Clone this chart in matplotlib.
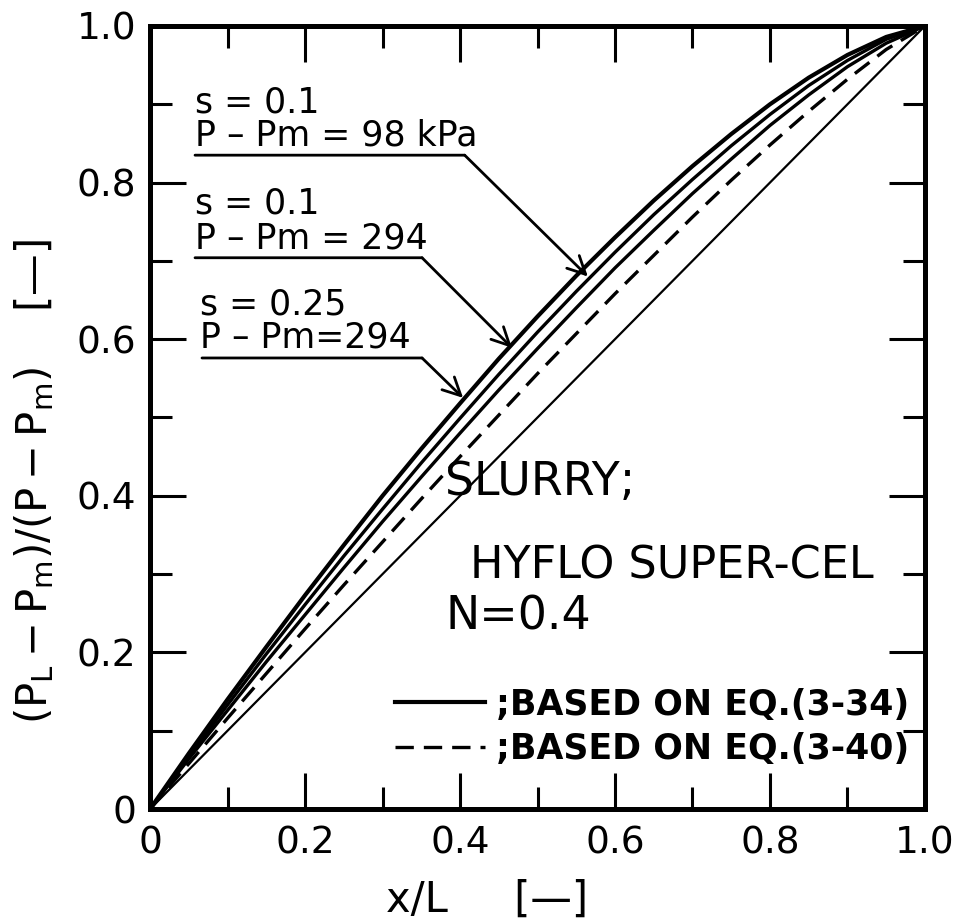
import matplotlib
matplotlib.use("Agg")
import matplotlib.pyplot as plt
from matplotlib.ticker import MultipleLocator

plt.rcParams['font.family'] = ['DejaVu Sans']
plt.rcParams['mathtext.default'] = 'regular'

# x/L positions
x_pos = [0.0, 0.05, 0.10, 0.15, 0.20, 0.25, 0.30, 0.35, 0.40, 0.45, 0.50,
         0.55, 0.60, 0.65, 0.70, 0.75, 0.80, 0.85, 0.90, 0.95, 1.0]

# (PL-Pm)/(P-Pm) for the solid curves, eq.(3-34)
solid_1 = [0.0, 0.071, 0.140, 0.207, 0.273, 0.337, 0.400, 0.460, 0.518, 0.575, 0.629,
           0.681, 0.730, 0.777, 0.821, 0.862, 0.900, 0.934, 0.963, 0.986, 1.0]
solid_2 = [0.0, 0.067, 0.133, 0.198, 0.261, 0.323, 0.383, 0.442, 0.499, 0.555, 0.609,
           0.661, 0.711, 0.759, 0.804, 0.847, 0.887, 0.924, 0.956, 0.983, 1.0]
solid_3 = [0.0, 0.064, 0.126, 0.188, 0.248, 0.308, 0.367, 0.424, 0.480, 0.535, 0.588,
           0.640, 0.691, 0.739, 0.786, 0.830, 0.873, 0.912, 0.948, 0.978, 1.0]
# dashed curve, eq.(3-40)
dashed = [0.0, 0.058, 0.116, 0.173, 0.230, 0.286, 0.341, 0.396, 0.450, 0.503, 0.556,
          0.607, 0.658, 0.707, 0.756, 0.803, 0.848, 0.891, 0.932, 0.970, 1.0]
# straight reference line
diag_x = [0.0, 1.0]
diag_y = [0.0, 1.0]

ticks = [0, 0.2, 0.4, 0.6, 0.8, 1.0]
tick_labels = ['0', '0.2', '0.4', '0.6', '0.8', '1.0']

# case labels: (line 1, line 2, text x, baseline y1, baseline y2)
cases = [("s = 0.1", "P – Pm = 98 kPa", 0.058, 0.890, 0.847),
         ("s = 0.1", "P – Pm = 294", 0.058, 0.760, 0.716),
         ("s = 0.25", "P – Pm=294", 0.065, 0.631, 0.589)]
# leader lines: start of underline, elbow, arrow tip
leaders = [((0.058, 0.835), (0.406, 0.835), (0.565, 0.680)),
           ((0.058, 0.704), (0.351, 0.704), (0.467, 0.589)),
           ((0.067, 0.576), (0.351, 0.576), (0.404, 0.525))]

fig = plt.figure(figsize=(9.62, 9.21), dpi=100)
ax = fig.add_axes([0.156, 0.1216, 0.8055, 0.8502])

ax.plot(diag_x, diag_y, color='black', lw=1.6)
l1, = ax.plot(x_pos, solid_1, color='black', lw=3.0)
ax.plot(x_pos, solid_2, color='black', lw=2.4)
ax.plot(x_pos, solid_3, color='black', lw=2.4)
l2, = ax.plot(x_pos, dashed, color='black', lw=2.4, linestyle=(0, (5.5, 3)))

ax.set_xlim(0, 1)
ax.set_ylim(0, 1)
ax.set_xticks(ticks)
ax.set_xticklabels(tick_labels)
ax.set_yticks(ticks)
ax.set_yticklabels(tick_labels)
ax.xaxis.set_minor_locator(MultipleLocator(0.1))
ax.yaxis.set_minor_locator(MultipleLocator(0.1))
ax.tick_params(which='both', direction='in', top=True, right=True, width=2.2, color='black')
ax.tick_params(which='major', length=26)
ax.tick_params(which='minor', length=16)
ax.tick_params(axis='x', which='major', labelsize=27, pad=12)
ax.tick_params(axis='y', which='major', labelsize=27, pad=10)
for sp in ax.spines.values():
    sp.set_linewidth(3.6)

for (t1, t2, tx, ty1, ty2) in cases:
    ax.text(tx, ty1, t1, fontsize=25, va='baseline', ha='left')
    ax.text(tx, ty2, t2, fontsize=25, va='baseline', ha='left')

for (start, elbow, tip) in leaders:
    ax.annotate('', xy=elbow, xytext=start,
                arrowprops=dict(arrowstyle='-', lw=2.0, color='black', shrinkA=0, shrinkB=0))
    ax.annotate('', xy=tip, xytext=elbow,
                arrowprops=dict(arrowstyle='->', lw=2.0, color='black', shrinkA=0, shrinkB=0,
                                mutation_scale=32))

ax.text(0.381, 0.401, "SLURRY;", fontsize=33, va='baseline', ha='left')
ax.text(0.413, 0.295, "HYFLO SUPER-CEL", fontsize=32, va='baseline', ha='left')
ax.text(0.381, 0.229, "N=0.4", fontsize=33, va='baseline', ha='left')

ax.legend([l1, l2], [";BASED ON EQ.(3-34)", ";BASED ON EQ.(3-40)"],
          loc='upper left', bbox_to_anchor=(0.316, 0.155), frameon=False,
          prop={'size': 25, 'weight': 'bold'}, handlelength=2.6, handletextpad=0.3,
          labelspacing=0.3, borderpad=0, borderaxespad=0)

fig.text(0.036, 0.477, r'$(P_L-P_m)/(P-P_m)$    [—]', rotation=90, fontsize=30,
         ha='center', va='center')
fig.text(0.506, 0.023, 'x/L     [—]', fontsize=30, ha='center', va='center')

fig.savefig('out.png', dpi=100)
